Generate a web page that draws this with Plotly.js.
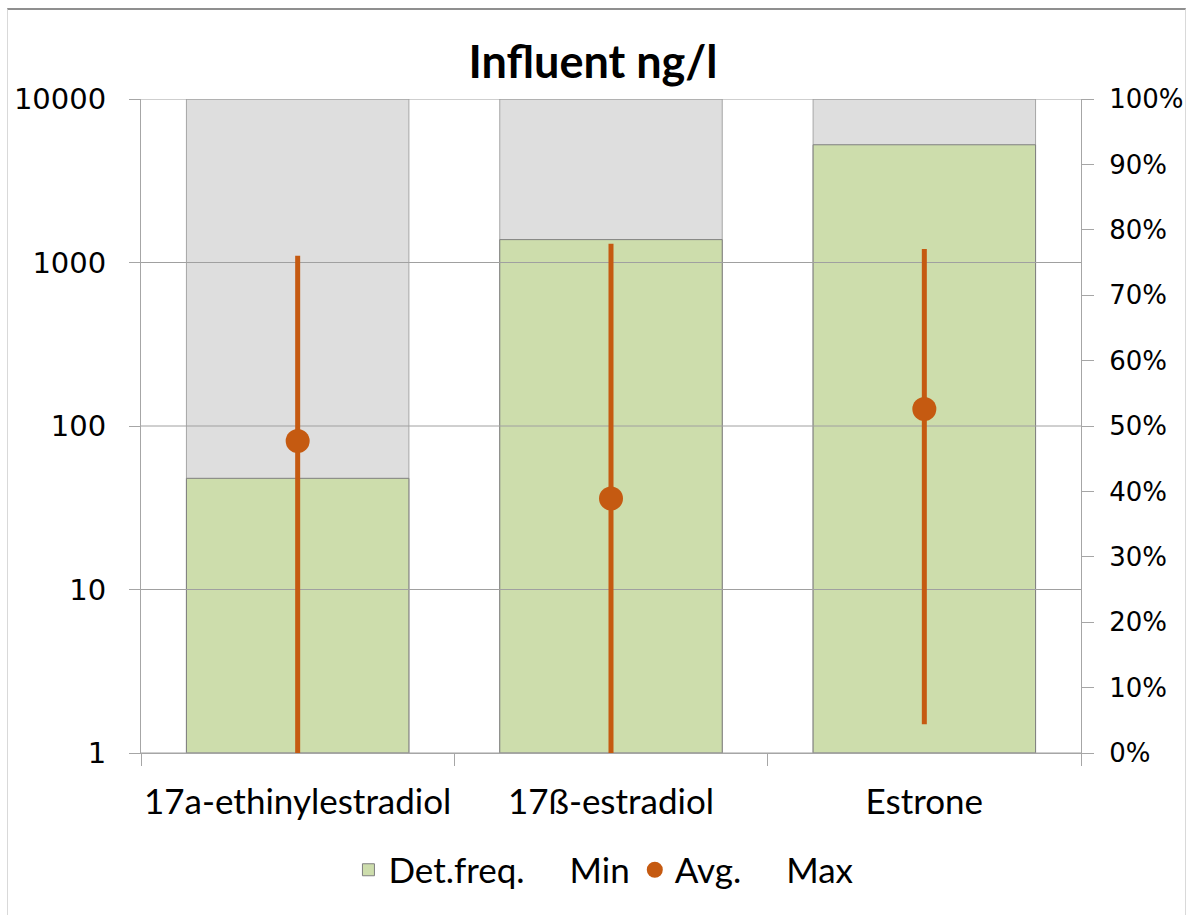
<!DOCTYPE html>
<html>
<head>
<meta charset="utf-8">
<script src="https://cdn.plot.ly/plotly-3.0.1.min.js"></script>
<style>
  html, body { margin: 0; padding: 0; background: #fff; }
  #wrap { position: relative; width: 1186px; height: 915px; overflow: hidden; }
  #chart { position: absolute; left: 0; top: 0; width: 1186px; height: 915px; }
  #frame { position: absolute; left: 7px; top: 8px; width: 1177px; height: 930px;
           border-left: 1px solid #D9D9D9; border-right: 1px solid #D9D9D9; border-top: 2px solid #8F8F8F;
           pointer-events: none; }
</style>
</head>
<body>
<div id="wrap">
  <div id="chart"></div>
  <div id="frame"></div>
</div>
<script>
// ---- data ----
const categories = ["17a-ethinylestradiol", "17ß-estradiol", "Estrone"];
const detFreq = [0.42, 0.785, 0.93];        // detection frequency (right axis)
const background = [1, 1, 1];               // 100% background bars
const minVals = [1, 1, 1.5];                // ng/l
const avgVals = [81, 36, 127];              // ng/l
const maxVals = [1100, 1300, 1210];         // ng/l
const logTickVals = [1, 10, 100, 1000, 10000];
const logTickText = ["1", "10", "100", "1000", "10000"];

const idx = categories.map((c, i) => i);
const n = categories.length;
const orange = "#C55A11";
const catFont = "Lato, 'Open Sans', sans-serif";
const numFont = "'DejaVu Sans', Verdana, sans-serif";

// gridlines drawn as a trace so they sit above the bars
const gx = [], gy = [];
logTickVals.forEach(v => { gx.push(-0.5, n - 0.5, null); gy.push(v, v, null); });

const traces = [
  { type: "bar", x: idx, y: background, yaxis: "y", xaxis: "x", width: 0.71,
    marker: { color: "#DEDEDE", line: { color: "#A6A6A6", width: 1 } },
    showlegend: false, hoverinfo: "skip" },
  { type: "bar", x: idx, y: detFreq, yaxis: "y", xaxis: "x", width: 0.71, name: "Det.freq.",
    marker: { color: "#CDDDAC", line: { color: "#7F7F7F", width: 1 } } },
  { type: "scatter", mode: "lines", x: gx, y: gy, yaxis: "y2", xaxis: "x",
    line: { color: "#A0A0A0", width: 1 }, showlegend: false, hoverinfo: "skip" },
  { type: "scatter", mode: "markers", x: idx, y: minVals, yaxis: "y2", xaxis: "x2", name: "Min",
    marker: { color: "rgba(0,0,0,0)", size: 16 } },
  { type: "scatter", mode: "markers", x: idx, y: avgVals, yaxis: "y2", xaxis: "x", name: "Avg.",
    marker: { color: orange, size: 24 },
    error_y: { type: "data", symmetric: false,
               array: avgVals.map((a, i) => maxVals[i] - a),
               arrayminus: avgVals.map((a, i) => a - minVals[i]),
               color: orange, thickness: 5, width: 0 } },
  { type: "scatter", mode: "markers", x: idx, y: maxVals, yaxis: "y2", xaxis: "x2", name: "Max",
    marker: { color: "rgba(0,0,0,0)", size: 16 } }
];

const layout = {
  width: 1186, height: 915,
  paper_bgcolor: "rgba(0,0,0,0)", plot_bgcolor: "#fff",
  margin: { l: 141, r: 105, t: 99, b: 162 },
  barmode: "overlay",
  title: { text: "<b>Influent ng/l</b>", font: { family: catFont, size: 45, color: "#000" },
           x: 0.5, xanchor: "center", y: 1 - 62 / 915, yanchor: "middle", yref: "container" },
  xaxis: { range: [-0.5, n - 0.5], tickvals: idx, ticktext: categories, ticks: "",
           showgrid: false, zeroline: false, showline: true, linecolor: "#A6A6A6", linewidth: 1,
           tickfont: { family: catFont, size: 35, color: "#000" }, ticklabelstandoff: 18,
           fixedrange: true },
  xaxis2: { overlaying: "x", anchor: "y", side: "bottom", range: [-0.5, n - 0.5],
            tickvals: idx.map(i => i - 0.5).concat([n - 0.5]), ticks: "outside", ticklen: 12,
            tickcolor: "#A6A6A6", showticklabels: false, showgrid: false, zeroline: false,
            showline: false },
  yaxis: { range: [0, 1], side: "right", tickformat: ".0%", dtick: 0.1, ticks: "outside",
           ticklen: 12, tickcolor: "#A6A6A6", showline: true, linecolor: "#A6A6A6",
           showgrid: false, zeroline: false, ticklabelstandoff: 10,
           tickfont: { family: numFont, size: 26, color: "#000" } },
  yaxis2: { type: "log", range: [0, 4], overlaying: "y", side: "left", anchor: "x",
            tickvals: logTickVals, ticktext: logTickText, ticks: "outside", ticklen: 11,
            tickcolor: "#A6A6A6", showline: true, linecolor: "#A6A6A6", showgrid: false,
            zeroline: false, ticklabelstandoff: 17,
            tickfont: { family: numFont, size: 29, color: "#000" } },
  legend: { orientation: "h", x: 0.4925, xanchor: "center", y: -(870 - 753) / 654, yanchor: "middle",
            font: { family: catFont, size: 35, color: "#000" }, bgcolor: "rgba(0,0,0,0)",
            itemwidth: 30 },
  showlegend: true
};

Plotly.newPlot("chart", traces, layout, { displayModeBar: false, staticPlot: true });
</script>
</body>
</html>
